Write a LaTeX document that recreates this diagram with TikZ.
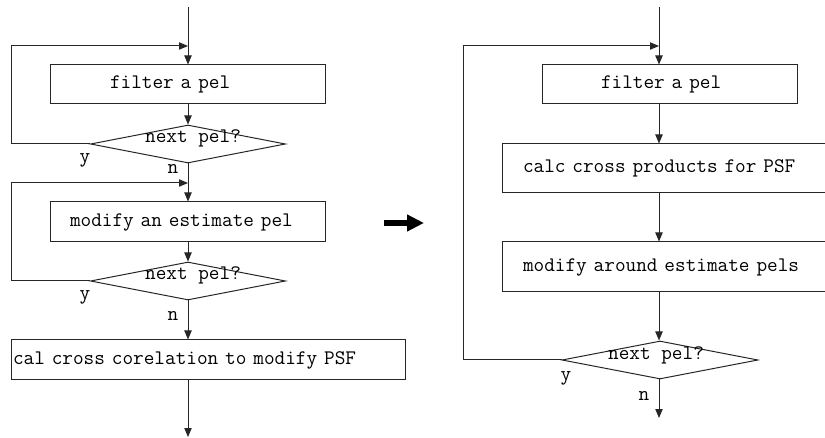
\documentclass[tikz,border=0pt]{standalone}
\usepackage{fontspec}
\usetikzlibrary{arrows.meta,shapes.geometric}
\begin{document}
\begin{tikzpicture}[x=0.75pt,y=-0.75pt,
  every node/.style={font=\ttfamily\fontsize{15.5}{17}\selectfont},
  line/.style={line width=0.75pt,black!85},
  arr/.style={line width=0.75pt, black!85, -{Triangle[length=6.75pt,width=5.5pt]}},
  stepbox/.style={draw=black!85,line width=0.75pt,rectangle,align=left,inner ysep=0pt},
  decision/.style={draw=black!85,line width=0.75pt,diamond,inner sep=0pt,minimum width=195*0.75pt},
  lbl/.style={anchor=base,inner sep=0pt}
]
\useasboundingbox (0,0) rectangle (825,438);
% ---------- left column ----------
\coordinate (cL) at (188,7);
\node[stepbox,minimum width=275*0.75pt,minimum height=39*0.75pt,inner xsep=60*0.75pt,text width=155*0.75pt] (b1) at (187.5,84.5) {filter a pel};
\node[decision,minimum height=38*0.75pt] (d1) at (188,144) {};
\node[lbl] (t1) at (193,143) {next pel?};
\node[stepbox,minimum width=275*0.75pt,minimum height=40*0.75pt,inner xsep=20*0.75pt,text width=235*0.75pt] (b2) at (187.5,222) {modify an estimate pel};
\node[decision,minimum height=38*0.75pt] (d2) at (188,281) {};
\node[lbl] (t2) at (193,280) {next pel?};
\node[stepbox,minimum width=394*0.75pt,minimum height=40*0.75pt,inner xsep=2*0.75pt,text width=390*0.75pt] (b3) at (208,360) {cal cross corelation to modify PSF};
\coordinate (endL) at (188,437);
\coordinate (j1) at (188,46);
\coordinate (j2) at (188,183);
\coordinate (lx1) at (11,144);
\coordinate (lx2) at (11,281);
\node[lbl] (y1) at (85,163) {y};
\node[lbl] (n1) at (173,174) {n};
\node[lbl] (y2) at (85,300) {y};
\node[lbl] (n2) at (173,321) {n};
\draw[arr] (cL) -- (cL |- b1.north);
\draw[arr] (b1.south -| cL) -- (d1.north);
\draw[line] (d1.west) -- (lx1) -- (lx1 |- j1);
\draw[arr] (lx1 |- j1) -- (j1);
\draw[arr] (d1.south) -- (b2.north -| cL);
\draw[line] (d2.west) -- (lx2) -- (lx2 |- j2);
\draw[arr] (lx2 |- j2) -- (j2);
\draw[arr] (b2.south -| cL) -- (d2.north);
\draw[arr] (d2.south) -- (b3.north -| cL);
\draw[arr] (b3.south -| cL) -- (endL);
% ---------- middle arrow ----------
\coordinate (ma) at (384,223);
\coordinate (mb) at (424,223);
\draw[line width=4.5pt,-{Triangle[length=12.75pt,width=12pt]}] (ma) -- (mb);
% ---------- right column ----------
\coordinate (cR) at (659,7);
\node[stepbox,minimum width=255*0.75pt,minimum height=39*0.75pt,inner xsep=59*0.75pt,text width=137*0.75pt] (r1) at (669.5,84.5) {filter a pel};
\node[stepbox,minimum width=325*0.75pt,minimum height=49*0.75pt,inner xsep=21*0.75pt,text width=283*0.75pt] (r2) at (664.5,168.5) {calc cross products for PSF};
\node[stepbox,minimum width=325*0.75pt,minimum height=50*0.75pt,inner xsep=21*0.75pt,text width=283*0.75pt] (r3) at (664.5,267) {modify around estimate pels};
\node[decision,minimum width=196*0.75pt,minimum height=38*0.75pt] (rd) at (660,360) {};
\node[lbl] (rt) at (656,359) {next pel?};
\coordinate (endR) at (659,418);
\coordinate (jr) at (659,46);
\coordinate (rx) at (463,360);
\node[lbl] (ry) at (566,380) {y};
\node[lbl] (rn) at (644,400) {n};
\draw[arr] (cR) -- (cR |- r1.north);
\draw[line] (rd.west) -- (rx) -- (rx |- jr);
\draw[arr] (rx |- jr) -- (jr);
\draw[arr] (r1.south -| cR) -- (r2.north -| cR);
\draw[arr] (r2.south -| cR) -- (r3.north -| cR);
\draw[arr] (r3.south -| cR) -- (rd.north -| cR);
\draw[arr] (rd.south -| cR) -- (endR);
\end{tikzpicture}
\end{document}
